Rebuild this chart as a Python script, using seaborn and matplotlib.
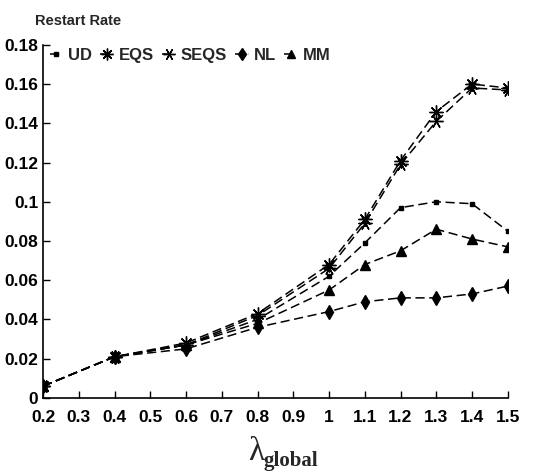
import matplotlib
matplotlib.use("Agg")
import matplotlib.pyplot as plt
import seaborn as sns
import pandas as pd

x = [0.2, 0.4, 0.6, 0.8, 1.0, 1.1, 1.2, 1.3, 1.4, 1.5]
ud = [0.006, 0.021, 0.027, 0.040, 0.062, 0.079, 0.097, 0.100, 0.099, 0.085]
eqs = [0.006, 0.021, 0.028, 0.043, 0.068, 0.091, 0.121, 0.146, 0.160, 0.158]
seqs = [0.006, 0.021, 0.027, 0.042, 0.066, 0.089, 0.119, 0.141, 0.158, 0.157]
nl = [0.006, 0.021, 0.025, 0.036, 0.044, 0.049, 0.051, 0.051, 0.053, 0.057]
mm = [0.006, 0.021, 0.027, 0.038, 0.055, 0.068, 0.075, 0.086, 0.081, 0.077]
series_names = ["UD", "EQS", "SEQS", "NL", "MM"]
series_values = [ud, eqs, seqs, nl, mm]
xticks = [0.2, 0.3, 0.4, 0.5, 0.6, 0.7, 0.8, 0.9, 1.0, 1.1, 1.2, 1.3, 1.4, 1.5]
xticklabels = ["0.2", "0.3", "0.4", "0.5", "0.6", "0.7", "0.8", "0.9", "1", "1.1", "1.2", "1.3", "1.4", "1.5"]
yticks = [0, 0.02, 0.04, 0.06, 0.08, 0.1, 0.12, 0.14, 0.16, 0.18]
yticklabels = ["0", "0.02", "0.04", "0.06", "0.08", "0.1", "0.12", "0.14", "0.16", "0.18"]

rows = []
for name, vals in zip(series_names, series_values):
    for xv, yv in zip(x, vals):
        rows.append({"lam": xv, "rate": yv, "series": name})
df = pd.DataFrame(rows)

sns.set_style("ticks")
plt.rcParams["font.family"] = ["Liberation Sans", "DejaVu Sans"]

fig = plt.figure(figsize=(5.46, 4.72), dpi=100)
ax = fig.add_axes([0.079, 0.157, 0.851, 0.748])

markers = {"UD": "s", "EQS": (8, 2, 0), "SEQS": (6, 2, 90), "NL": "d", "MM": "^"}
msizes = {"UD": 3, "EQS": 10, "SEQS": 10, "NL": 7, "MM": 7}

for name in series_names:
    sub = df[df["series"] == name]
    sns.lineplot(data=sub, x="lam", y="rate", ax=ax, color="black",
                 linestyle=(0, (6, 3)), linewidth=1.1, marker=markers[name],
                 markersize=msizes[name], markeredgecolor="black",
                 markeredgewidth=1.0, label=name)

ax.set_xlim(0.2, 1.5)
ax.set_ylim(0, 0.18)
ax.set_xticks(xticks)
ax.set_xticklabels(xticklabels)
ax.set_yticks(yticks)
ax.set_yticklabels(yticklabels)
ax.tick_params(direction="in", length=5, width=1, labelsize=12.5, colors="black")
ax.tick_params(axis="x", pad=9)
for lab in ax.get_xticklabels() + ax.get_yticklabels():
    lab.set_fontweight("bold")
for s in ["top", "right"]:
    ax.spines[s].set_visible(False)
for s in ["left", "bottom"]:
    ax.spines[s].set_color("black")
    ax.spines[s].set_linewidth(1.2)

ax.set_xlabel("")
ax.set_ylabel("")
fig.text(0.455, 0.025, "λ", fontsize=24, family=["Liberation Serif", "DejaVu Serif"],
         ha="left", va="baseline")
fig.text(0.483, 0.012, "global", fontsize=15, fontweight="bold",
         family=["Liberation Serif", "DejaVu Serif"], ha="left", va="baseline")
fig.text(0.064, 0.947, "Restart Rate", fontsize=10.5, fontweight="bold",
         ha="left", va="baseline")

leg = ax.legend(loc="upper left", ncol=5, frameon=False,
                prop={"size": 12, "weight": "bold"},
                handlelength=0.8, handletextpad=0.3, columnspacing=0.5,
                borderaxespad=0.0, bbox_to_anchor=(0.0, 1.01), markerscale=0.85)

fig.savefig("out.png", dpi=100)
